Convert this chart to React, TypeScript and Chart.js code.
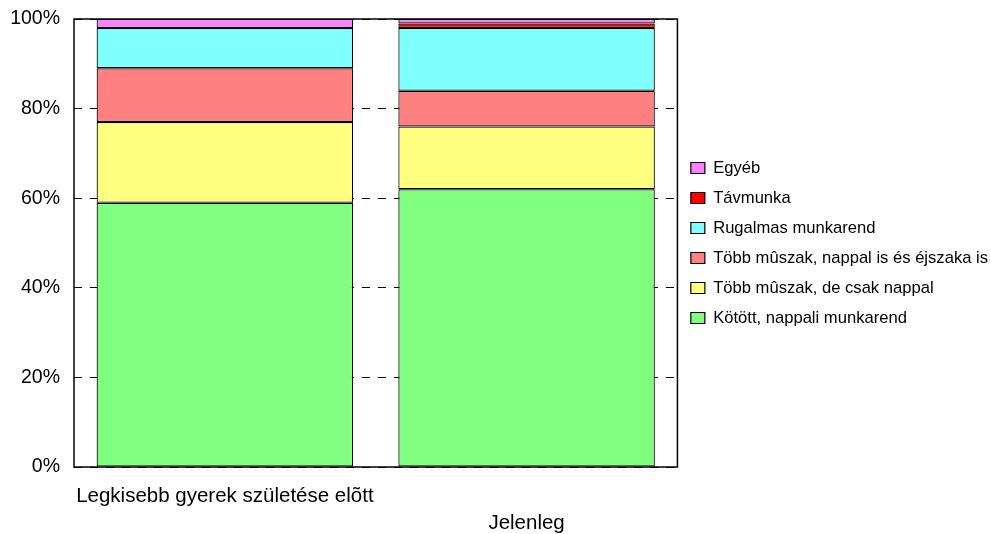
import React, { useEffect, useRef } from "react";
import { Chart, registerables } from "chart.js";

Chart.register(...registerables);

const categories: (string | string[])[] = [
  ["Legkisebb gyerek születése elõtt"],
  ["", "Jelenleg"],
];

const seriesNames = [
  "Kötött, nappali munkarend",
  "Több mûszak, de csak nappal",
  "Több mûszak, nappal is és éjszaka is",
  "Rugalmas munkarend",
  "Távmunka",
  "Egyéb",
];

const kotott = [59, 62];
const nappal = [18, 14];
const ejszaka = [12, 8];
const rugalmas = [9, 14];
const tavmunka = [0, 1];
const egyeb = [2, 1];

const colors = ["#80FF80", "#FFFF80", "#FF8080", "#80FFFF", "#FF0000", "#FF80FF"];

const yTicks = [0, 20, 40, 60, 80, 100];

const FONT = "'Liberation Sans', Arial, sans-serif";

const frame = {
  id: "frame",
  afterDatasetsDraw(chart: any) {
    const { ctx, chartArea } = chart;
    ctx.save();
    ctx.strokeStyle = "#000";
    ctx.lineWidth = 1.5;
    ctx.setLineDash([]);
    ctx.strokeRect(chartArea.left, chartArea.top, chartArea.right - chartArea.left, chartArea.bottom - chartArea.top);
    ctx.restore();
  },
};

export default function App() {
  const ref = useRef<HTMLCanvasElement | null>(null);
  useEffect(() => {
    if (!ref.current) return;
    const values = [kotott, nappal, ejszaka, rugalmas, tavmunka, egyeb];
    const chart = new Chart(ref.current, {
      type: "bar",
      data: {
        labels: categories as any,
        datasets: seriesNames.map((name, i) => ({
          label: name,
          data: values[i],
          backgroundColor: colors[i],
          borderColor: "#000",
          borderWidth: 1.2,
          borderSkipped: false,
          barPercentage: 0.85,
          categoryPercentage: 1,
        })),
      },
      options: {
        animation: false,
        responsive: true,
        maintainAspectRatio: false,
        layout: { padding: { left: 10, top: 19, right: -8, bottom: 0 } },
        plugins: {
          tooltip: { enabled: false },
          legend: {
            position: "right",
            fullSize: false,
            reverse: true,
            maxWidth: 400,
            labels: {
              color: "#000",
              font: { family: FONT, size: 16.6 },
              boxWidth: 14,
              boxHeight: 11,
              padding: 13.4,
            },
          } as any,
        },
        scales: {
          x: {
            stacked: true,
            offset: true,
            grid: { display: false, drawTicks: false },
            border: { display: false },
            afterFit: (scale: any) => {
              scale.paddingLeft = 0;
              scale.paddingRight = 0;
              scale.height = 67;
            },
            ticks: {
              color: "#000",
              font: { family: FONT, size: 20.5, lineHeight: "27px" } as any,
              padding: 16,
              maxRotation: 0,
              minRotation: 0,
              autoSkip: false,
            },
          },
          y: {
            stacked: true,
            min: 0,
            max: 100,
            afterBuildTicks: (axis: any) => {
              axis.ticks = yTicks.map((v) => ({ value: v }));
            },
            afterFit: (scale: any) => {
              scale.paddingTop = 0;
              scale.paddingBottom = 0;
              scale.width = 64;
            },
            grid: {
              color: "#000",
              lineWidth: 1,
              drawTicks: false,
              borderDash: [8, 8],
            } as any,
            border: { display: false, dash: [8, 8] },
            ticks: {
              color: "#000",
              font: { family: FONT, size: 19.5 },
              padding: 14,
              callback: (v: any) => v + "%",
            },
          },
        },
      },
      plugins: [frame],
    });
    return () => chart.destroy();
  }, []);
  return (
    <div style={{ position: "fixed", left: 0, top: 0, width: 990, height: 534, background: "#fff" }}>
      <canvas ref={ref} />
    </div>
  );
}
